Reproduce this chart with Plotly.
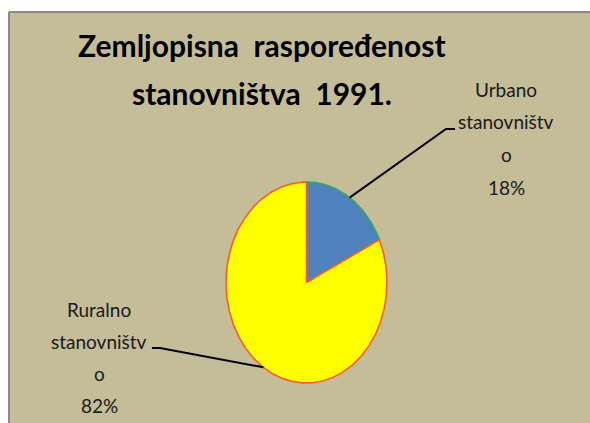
import numpy as np
import plotly.graph_objects as go

# ---- data ----
categories = ["Urbano stanovništvo", "Ruralno stanovništvo"]
values = [18, 82]
label_lines = [["Urbano", "stanovništv", "o"], ["Ruralno", "stanovništv", "o"]]
slice_colors = ["#4F81BD", "#FFFF00"]
title_lines = ["Zemljopisna  raspoređenost", "stanovništva  1991."]

# ---- layout constants (pixel space) ----
W, H = 590, 423
cx, cy, rx, ry = 306.5, 282.5, 80.5, 100.5
BG = "#C4BD97"
EDGE = "#FF5A2A"
GREEN_EDGE = "#2FA86A"
LABEL_FONT = "Lato, 'Open Sans', sans-serif"
TITLE_FONT = "Lato, 'Open Sans', sans-serif"

# label placement: (center x, baseline of first line, line spacing, elbow, end)
label_pos = [
    dict(x=506, y0=96, dy=32.7, elbow=(446, 129), end=(455, 129)),
    dict(x=99, y0=316, dy=32.0, elbow=(160, 348), end=(152, 348)),
]


def ell(theta_deg):
    t = np.radians(theta_deg)
    return cx + rx * np.sin(t), cy - ry * np.cos(t)


total = float(sum(values))
bounds = np.concatenate([[0], np.cumsum(values)]) / total * 360.0

fig = go.Figure()

arcs = []
for i, (name, v) in enumerate(zip(categories, values)):
    a0, a1 = bounds[i], bounds[i + 1]
    th = np.linspace(a0, a1, max(int((a1 - a0) * 2), 8))
    ax, ay = ell(th)
    arcs.append((ax, ay))
    px = np.concatenate([[cx], ax, [cx]])
    py = np.concatenate([[cy], ay, [cy]])
    fig.add_trace(go.Scatter(
        x=px, y=py, mode="lines", fill="toself",
        fillcolor=slice_colors[i],
        line=dict(color=EDGE if i == 1 else slice_colors[i], width=1.6 if i == 1 else 0.1),
        name=name, hoverinfo="text",
        text=f"{name}: {v / total * 100:.0f}%", showlegend=False,
    ))

# green arc edge on the blue slice
fig.add_trace(go.Scatter(
    x=arcs[0][0], y=arcs[0][1], mode="lines",
    line=dict(color=GREEN_EDGE, width=1.6), hoverinfo="skip", showlegend=False,
))

annotations = []
for i, (name, v) in enumerate(zip(categories, values)):
    mid = (bounds[i] + bounds[i + 1]) / 2
    sx, sy = ell(mid)
    lp = label_pos[i]
    fig.add_trace(go.Scatter(
        x=[sx, lp["elbow"][0], lp["end"][0]],
        y=[sy, lp["elbow"][1], lp["end"][1]],
        mode="lines", line=dict(color="#000000", width=2),
        hoverinfo="skip", showlegend=False,
    ))
    lines = label_lines[i] + [f"{v / total * 100:.0f}%"]
    for k, t in enumerate(lines):
        annotations.append(dict(
            x=lp["x"], y=lp["y0"] + k * lp["dy"] - 7, xref="x", yref="y",
            text=t, showarrow=False, xanchor="center", yanchor="middle",
            font=dict(family=LABEL_FONT, size=19, color="#1A1A1A"),
        ))

title_y = [45, 93]
for k, t in enumerate(title_lines):
    annotations.append(dict(
        x=262, y=title_y[k], xref="x", yref="y",
        text=f"<b>{t}</b>", showarrow=False, xanchor="center", yanchor="middle",
        font=dict(family=TITLE_FONT, size=30, color="#000000"),
    ))

shapes = [
    dict(type="rect", xref="x", yref="y", x0=9, x1=W, y0=12, y1=H,
         fillcolor=BG, line=dict(width=0), layer="below"),
    dict(type="line", xref="x", yref="y", x0=9, x1=W, y0=12, y1=12,
         line=dict(color="#8A8A8A", width=2), layer="below"),
    dict(type="line", xref="x", yref="y", x0=9, x1=9, y0=12, y1=H,
         line=dict(color="#8A8A8A", width=2), layer="below"),
]

fig.update_layout(
    width=W, height=H,
    margin=dict(l=0, r=0, t=0, b=0),
    paper_bgcolor="#FFFFFF", plot_bgcolor="rgba(0,0,0,0)",
    xaxis=dict(range=[0, W], visible=False, fixedrange=True),
    yaxis=dict(range=[H, 0], visible=False, fixedrange=True),
    annotations=annotations, shapes=shapes,
)

fig.write_html(
    "out.html",
    config={"displayModeBar": False},
    post_script="document.body.style.margin='0';document.body.style.overflow='hidden';",
)
